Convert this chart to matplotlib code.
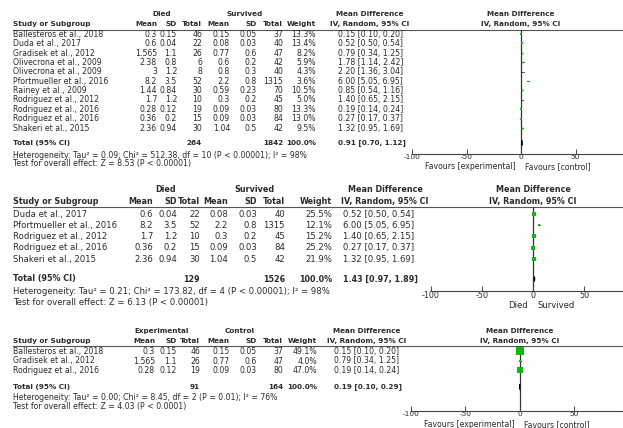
"""RevMan style forest plots: died vs survived, three subgroups."""

import matplotlib

matplotlib.use("Agg")
import matplotlib.pyplot as plt

W, H = 623, 428
TEXT = "#2a2a2a"
GREEN = "#12b812"

# ---- panel 1: all studies ----
P1_STUDY = [
    "Ballesteros et al., 2018",
    "Duda et al., 2017",
    "Gradisek et al., 2012",
    "Olivecrona et al., 2009",
    "Olivecrona et al., 2009",
    "Pfortmueller et al., 2016",
    "Rainey et al., 2009",
    "Rodriguez et al., 2012",
    "Rodriguez et al., 2016",
    "Rodriguez et al., 2016",
    "Shakeri et al., 2015",
]
P1_E_MEAN = [0.3, 0.6, 1.565, 2.38, 3, 8.2, 1.44, 1.7, 0.28, 0.36, 2.36]
P1_E_SD = [0.15, 0.04, 1.1, 0.8, 1.2, 3.5, 0.84, 1.2, 0.12, 0.2, 0.94]
P1_E_N = [46, 22, 26, 6, 8, 52, 30, 10, 19, 15, 30]
P1_C_MEAN = [0.15, 0.08, 0.77, 0.6, 0.8, 2.2, 0.59, 0.3, 0.09, 0.09, 1.04]
P1_C_SD = [0.05, 0.03, 0.6, 0.2, 0.3, 0.8, 0.23, 0.2, 0.03, 0.03, 0.5]
P1_C_N = [37, 40, 47, 42, 40, 1315, 70, 45, 80, 84, 42]
P1_WEIGHT = [13.3, 13.4, 8.2, 5.9, 4.3, 3.6, 10.5, 5.0, 13.3, 13.0, 9.5]
P1_MD = [0.15, 0.52, 0.79, 1.78, 2.20, 6.00, 0.85, 1.40, 0.19, 0.27, 1.32]
P1_LO = [0.10, 0.50, 0.34, 1.14, 1.36, 5.05, 0.54, 0.65, 0.14, 0.17, 0.95]
P1_HI = [0.20, 0.54, 1.25, 2.42, 3.04, 6.95, 1.16, 2.15, 0.24, 0.37, 1.69]
P1_TOTAL_N = [264, 1842]
P1_POOLED = [0.91, 0.70, 1.12]
P1_HET = "Heterogeneity: Tau² = 0.09; Chi² = 512.38, df = 10 (P < 0.00001); I² = 98%"
P1_TEST = "Test for overall effect: Z = 8.53 (P < 0.00001)"

# ---- panel 2 ----
P2_STUDY = [
    "Duda et al., 2017",
    "Pfortmueller et al., 2016",
    "Rodriguez et al., 2012",
    "Rodriguez et al., 2016",
    "Shakeri et al., 2015",
]
P2_E_MEAN = [0.6, 8.2, 1.7, 0.36, 2.36]
P2_E_SD = [0.04, 3.5, 1.2, 0.2, 0.94]
P2_E_N = [22, 52, 10, 15, 30]
P2_C_MEAN = [0.08, 2.2, 0.3, 0.09, 1.04]
P2_C_SD = [0.03, 0.8, 0.2, 0.03, 0.5]
P2_C_N = [40, 1315, 45, 84, 42]
P2_WEIGHT = [25.5, 12.1, 15.2, 25.2, 21.9]
P2_MD = [0.52, 6.00, 1.40, 0.27, 1.32]
P2_LO = [0.50, 5.05, 0.65, 0.17, 0.95]
P2_HI = [0.54, 6.95, 2.15, 0.37, 1.69]
P2_TOTAL_N = [129, 1526]
P2_POOLED = [1.43, 0.97, 1.89]
P2_HET = "Heterogeneity: Tau² = 0.21; Chi² = 173.82, df = 4 (P < 0.00001); I² = 98%"
P2_TEST = "Test for overall effect: Z = 6.13 (P < 0.00001)"

# ---- panel 3 ----
P3_STUDY = [
    "Ballesteros et al., 2018",
    "Gradisek et al., 2012",
    "Rodriguez et al., 2016",
]
P3_E_MEAN = [0.3, 1.565, 0.28]
P3_E_SD = [0.15, 1.1, 0.12]
P3_E_N = [46, 26, 19]
P3_C_MEAN = [0.15, 0.77, 0.09]
P3_C_SD = [0.05, 0.6, 0.03]
P3_C_N = [37, 47, 80]
P3_WEIGHT = [49.1, 4.0, 47.0]
P3_MD = [0.15, 0.79, 0.19]
P3_LO = [0.10, 0.34, 0.14]
P3_HI = [0.20, 1.25, 0.24]
P3_TOTAL_N = [91, 164]
P3_POOLED = [0.19, 0.10, 0.29]
P3_HET = "Heterogeneity: Tau² = 0.00; Chi² = 8.45, df = 2 (P = 0.01); I² = 76%"
P3_TEST = "Test for overall effect: Z = 4.03 (P < 0.0001)"

AXIS_TICKS = [-100, -50, 0, 50, 100]

PANELS = [
    dict(
        groups=("Died", "Survived"), foot=("Favours [experimental]", "Favours [control]"),
        study=P1_STUDY, cols=[P1_E_MEAN, P1_E_SD, P1_E_N, P1_C_MEAN, P1_C_SD, P1_C_N],
        weight=P1_WEIGHT, md=P1_MD, lo=P1_LO, hi=P1_HI, total_n=P1_TOTAL_N,
        pooled=P1_POOLED, het=P1_HET, test=P1_TEST,
        # layout (pixels)
        fs=5.6, y_group=14, y_head=24, y_rule=29.5, y_row0=34.5, dy=9.35,
        y_total=143, y_het=155, dy_test=8.5, y_axis=154, dy_foot=12.5,
        x_cols=[157, 177, 202, 230, 257, 283, 316], x_grp=(162, 245),
        x_md=338, x_mdhead=370, x_lim=(412, 630), box=0.6,
    ),
    dict(
        groups=("Died", "Survived"), foot=("Died", "Survived"),
        study=P2_STUDY, cols=[P2_E_MEAN, P2_E_SD, P2_E_N, P2_C_MEAN, P2_C_SD, P2_C_N],
        weight=P2_WEIGHT, md=P2_MD, lo=P2_LO, hi=P2_HI, total_n=P2_TOTAL_N,
        pooled=P2_POOLED, het=P2_HET, test=P2_TEST,
        fs=6.1, y_group=189, y_head=201, y_rule=206.5, y_row0=214, dy=11.3,
        y_total=279, y_het=292, dy_test=10.5, y_axis=291, dy_foot=15,
        x_cols=[153, 177, 200, 228, 257, 285, 332], x_grp=(166, 254),
        x_md=343, x_mdhead=385, x_lim=(431, 635), box=0.85,
    ),
    dict(
        groups=("Experimental", "Control"), foot=("Favours [experimental]", "Favours [control]"),
        study=P3_STUDY, cols=[P3_E_MEAN, P3_E_SD, P3_E_N, P3_C_MEAN, P3_C_SD, P3_C_N],
        weight=P3_WEIGHT, md=P3_MD, lo=P3_LO, hi=P3_HI, total_n=P3_TOTAL_N,
        pooled=P3_POOLED, het=P3_HET, test=P3_TEST,
        fs=5.6, y_group=331, y_head=341, y_rule=346, y_row0=351.5, dy=9.5,
        y_total=387, y_het=398, dy_test=9, y_axis=411, dy_foot=13.5,
        x_cols=[155, 177, 200, 230, 257, 283, 317], x_grp=(162, 240),
        x_md=334, x_mdhead=367, x_lim=(411, 628), box=1.0,
    ),
]


def put(ax, x, y, s, fs, ha="left", bold=False):
    ax.text(x, y, s, fontsize=fs * (0.94 if bold else 1.0), ha=ha, va="center",
            color=TEXT, fontweight="bold" if bold else "normal")


def draw_panel(fig, bg, p):
    fs = p["fs"]
    xc = p["x_cols"]
    x0, x1 = p["x_lim"]
    zero_x = (x0 + x1) / 2

    # header rows
    put(bg, p["x_grp"][0], p["y_group"], p["groups"][0], fs, ha="center", bold=True)
    put(bg, p["x_grp"][1], p["y_group"], p["groups"][1], fs, ha="center", bold=True)
    put(bg, 13, p["y_head"], "Study or Subgroup", fs, bold=True)
    for x, lab in zip(xc, ["Mean", "SD", "Total", "Mean", "SD", "Total", "Weight"]):
        put(bg, x, p["y_head"], lab, fs, ha="right", bold=True)
    for xm in (p["x_mdhead"], zero_x):
        put(bg, xm, p["y_group"], "Mean Difference", fs, ha="center", bold=True)
        put(bg, xm, p["y_head"], "IV, Random, 95% CI", fs, ha="center", bold=True)
    bg.plot([13, W], [p["y_rule"], p["y_rule"]], color="#555555", lw=0.8)

    # study rows
    rows_y = [p["y_row0"] + i * p["dy"] for i in range(len(p["study"]))]
    for i, y in enumerate(rows_y):
        put(bg, 13, y, p["study"][i], fs)
        for x, col in zip(xc[:6], p["cols"]):
            put(bg, x, y, f"{col[i]:g}", fs, ha="right")
        put(bg, xc[6], y, f"{p['weight'][i]:.1f}%", fs, ha="right")
        put(bg, p["x_md"], y, f"{p['md'][i]:.2f} [{p['lo'][i]:.2f}, {p['hi'][i]:.2f}]", fs)

    # total row + footnotes
    yt = p["y_total"]
    put(bg, 13, yt, "Total (95% CI)", fs, bold=True)
    put(bg, xc[2], yt, str(p["total_n"][0]), fs, ha="right", bold=True)
    put(bg, xc[5], yt, str(p["total_n"][1]), fs, ha="right", bold=True)
    put(bg, xc[6], yt, "100.0%", fs, ha="right", bold=True)
    est, lo, hi = p["pooled"]
    put(bg, p["x_md"], yt, f"{est:.2f} [{lo:.2f}, {hi:.2f}]", fs, bold=True)
    put(bg, 13, p["y_het"], p["het"], fs)
    put(bg, 13, p["y_het"] + p["dy_test"], p["test"], fs)

    # forest area, x in mean-difference units, y in pixel rows
    ax = fig.add_axes([x0 / W, 1 - p["y_axis"] / H, (x1 - x0) / W,
                       (p["y_axis"] - p["y_rule"]) / H])
    ax.set_xlim(-100, 100)
    ax.set_ylim(p["y_axis"], p["y_rule"] + 0.5)
    ax.patch.set_alpha(0)
    for side in ("top", "right", "left"):
        ax.spines[side].set_visible(False)
    ax.spines["bottom"].set_color("#444444")
    ax.spines["bottom"].set_linewidth(0.8)
    ax.set_yticks([])
    ax.set_xticks(AXIS_TICKS)
    ax.set_xticklabels([str(t) for t in AXIS_TICKS])
    ax.tick_params(axis="x", direction="in", length=3.5, width=0.7, pad=0,
                   labelsize=fs * 0.95, colors="#444444", labelcolor=TEXT)
    ax.axvline(0, color="#333333", lw=0.9, zorder=1)

    for i, y in enumerate(rows_y):
        ax.plot([p["lo"][i], p["hi"][i]], [y, y], color="#222222", lw=0.6, zorder=2)
        side = p["box"] * p["weight"][i] ** 0.5
        ax.plot(p["md"][i], y, marker="s", ms=side * 0.72, color=GREEN,
                mec=GREEN, mew=0, zorder=3)
    h = 2.6
    ax.fill([lo, est, hi, est], [yt, yt - h, yt, yt + h], color="black", lw=0.6,
            ec="black", zorder=4)

    yf = p["y_axis"] + p["dy_foot"]
    put(bg, zero_x - 5, yf, p["foot"][0], fs, ha="right")
    put(bg, zero_x + 4, yf, p["foot"][1], fs)


def main() -> None:
    fig = plt.figure(figsize=(W / 100, H / 100), dpi=100)
    bg = fig.add_axes([0, 0, 1, 1])
    bg.set_xlim(0, W)
    bg.set_ylim(H, 0)
    bg.axis("off")

    for p in PANELS:
        draw_panel(fig, bg, p)

    fig.savefig("out.png", dpi=100)
    plt.close(fig)


if __name__ == "__main__":
    main()
